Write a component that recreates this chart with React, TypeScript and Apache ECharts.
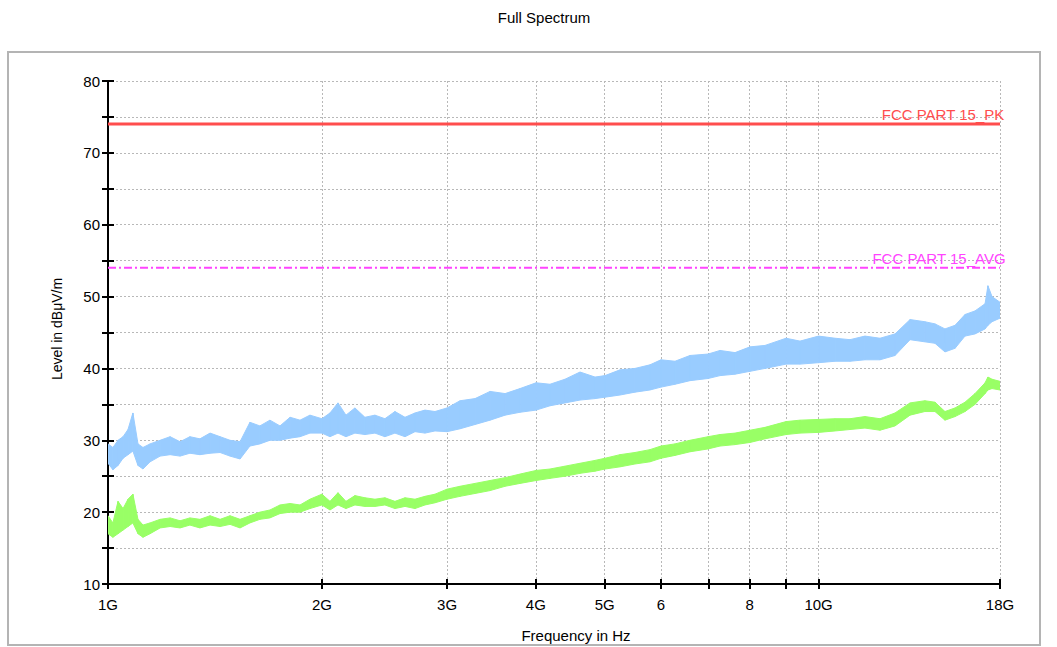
import React, { useEffect, useRef } from "react";
import * as echarts from "echarts";

// Frequency points in GHz
const freqs = [
  1.0, 1.016, 1.033, 1.05, 1.067, 1.084, 1.102, 1.12, 1.146, 1.184, 1.223, 1.263, 1.304, 1.347,
  1.392, 1.438, 1.485, 1.534, 1.584, 1.636, 1.69, 1.746, 1.804, 1.863, 1.924, 2.0, 2.053, 2.107,
  2.162, 2.226, 2.299, 2.375, 2.453, 2.534, 2.618, 2.704, 2.793, 2.885, 3.0, 3.129, 3.285, 3.449,
  3.621, 3.801, 4.003, 4.188, 4.397, 4.616, 4.846, 5.005, 5.254, 5.515, 5.79, 6.0, 6.28, 6.592,
  6.99, 7.266, 7.628, 8.008, 8.406, 8.999, 9.415, 10.0, 10.55, 11.07, 11.62, 12.2, 12.81, 13.45,
  14.11, 14.58, 15.06, 15.56, 16.07, 16.6, 17.15, 17.31, 17.54, 18.0,
];

// Peak trace envelope (dBµV/m)
const peakHi = [
  29.5, 29.0, 30.0, 30.5, 31.5, 33.8, 29.5, 29.0, 29.5, 30.0, 30.5, 29.8, 30.5, 30.2,
  31.0, 30.5, 30.0, 29.8, 32.5, 32.0, 32.8, 32.0, 33.2, 32.8, 33.5, 33.0, 33.8, 35.2,
  33.5, 34.5, 33.2, 33.5, 33.0, 34.0, 33.2, 33.8, 34.2, 34.0, 34.5, 35.5, 35.8, 36.8,
  36.5, 37.2, 38.0, 37.8, 38.5, 39.5, 38.8, 39.0, 39.8, 40.0, 40.5, 41.2, 41.0, 41.8,
  42.0, 42.5, 42.2, 43.0, 43.2, 44.2, 43.8, 44.5, 44.2, 44.0, 44.5, 44.2, 44.8, 46.8,
  46.5, 46.2, 45.5, 46.0, 47.5, 48.0, 49.0, 51.5, 50.0, 49.2,
];
const peakLo = [
  26.8, 25.9, 26.5, 27.5, 28.0, 28.5, 26.5, 26.0, 27.0, 27.8, 28.0, 27.8, 28.2, 28.0,
  28.2, 28.3, 27.8, 27.4, 29.2, 29.5, 30.0, 30.0, 30.3, 30.5, 31.0, 31.0, 30.5, 31.0,
  30.5, 31.0, 30.8, 31.0, 30.5, 31.0, 30.5, 31.2, 31.0, 31.3, 31.2, 31.6, 32.2, 32.8,
  33.5, 33.9, 34.2, 34.8, 35.2, 35.6, 35.8, 36.0, 36.3, 36.7, 37.0, 37.4, 37.8, 38.3,
  38.6, 39.0, 39.2, 39.6, 40.0, 40.6, 40.6, 40.8, 41.0, 41.0, 41.2, 41.2, 41.8, 44.0,
  43.7, 43.5, 42.3, 42.8, 44.5, 44.8, 45.5, 46.0, 46.5, 47.0,
];

// Average trace envelope (dBµV/m)
const avgHi = [
  19.5, 18.5, 21.5, 20.5, 21.8, 22.5, 19.0, 18.2, 18.5, 19.0, 19.2, 18.8, 19.2, 19.0,
  19.5, 19.0, 19.5, 19.0, 19.5, 20.0, 20.3, 21.0, 21.2, 21.0, 21.8, 22.5, 21.5, 22.7,
  21.5, 22.3, 22.0, 21.8, 22.0, 21.5, 22.0, 21.8, 22.2, 22.5, 23.2, 23.6, 24.0, 24.4,
  24.8, 25.3, 25.8, 26.0, 26.4, 26.8, 27.2, 27.5, 28.0, 28.3, 28.7, 29.2, 29.5, 30.0,
  30.5, 30.8, 31.0, 31.4, 31.8, 32.6, 32.8, 32.9, 33.0, 33.0, 33.3, 33.0, 33.8, 35.2,
  35.5, 35.3, 34.0, 34.5, 35.3, 36.5, 38.0, 38.8, 38.5, 38.2,
];
const avgLo = [
  17.0, 16.5, 17.0, 17.5, 18.0, 18.5, 17.0, 16.5, 17.0, 17.8, 18.0, 17.8, 18.2, 17.8,
  18.2, 18.0, 18.3, 17.8, 18.5, 19.0, 19.2, 19.8, 20.0, 20.0, 20.5, 21.0, 20.3, 21.0,
  20.5, 21.0, 20.8, 20.8, 21.0, 20.5, 20.8, 20.5, 21.0, 21.3, 21.8, 22.2, 22.6, 23.0,
  23.6, 24.0, 24.4, 24.7, 25.0, 25.4, 25.7, 26.0, 26.3, 26.7, 27.0, 27.5, 27.9, 28.4,
  28.8, 29.2, 29.4, 29.7, 30.2, 30.8, 31.0, 31.1, 31.3, 31.5, 31.7, 31.4, 32.0, 33.5,
  34.0, 34.0, 32.8, 33.3, 34.0, 35.0, 36.5, 37.0, 37.2, 37.0,
];

// Limit lines
const limitPk = 74;
const limitAvg = 54;
const limitPkName = "FCC PART 15_PK";
const limitAvgName = "FCC PART 15_AVG";

// Axes
const fMin = 1;
const fMax = 18;
const xTickFreqs = [1, 2, 3, 4, 5, 6, 7, 8, 9, 10, 18];
const xTickLabels = ["1G", "2G", "3G", "4G", "5G", "6", "", "8", "", "10G", "18G"];
const yMin = 10;
const yMax = 80;
const yInterval = 5;

const FONT = "Liberation Sans, Arial, sans-serif";
const lg = (f: number) => Math.log10(f);

function bandRows(hi: number[], lo: number[]) {
  const rows: number[][] = [];
  for (let i = 0; i < freqs.length - 1; i++) {
    rows.push([lg(freqs[i]), hi[i], lo[i], lg(freqs[i + 1]), hi[i + 1], lo[i + 1]]);
  }
  return rows;
}

function bandSeries(name: string, hi: number[], lo: number[], color: string) {
  return {
    type: "custom",
    name,
    data: bandRows(hi, lo),
    encode: { x: [0, 3], y: [1, 2, 4, 5] },
    clip: true,
    renderItem: (params: any, api: any) => {
      const a = api.coord([api.value(0), api.value(1)]);
      const b = api.coord([api.value(3), api.value(4)]);
      const c = api.coord([api.value(3), api.value(5)]);
      const d = api.coord([api.value(0), api.value(2)]);
      return {
        type: "polygon",
        shape: { points: [a, b, c, d] },
        style: { fill: color, stroke: color, lineWidth: 1 },
      };
    },
    z: 3,
  };
}

function xLabel(v: number) {
  for (let i = 0; i < xTickFreqs.length; i++) {
    if (Math.abs(lg(xTickFreqs[i]) - v) < 1e-6) return xTickLabels[i];
  }
  return "";
}

export default function App() {
  const ref = useRef<HTMLDivElement>(null);
  useEffect(() => {
    if (!ref.current) return;
    const chart = echarts.init(ref.current, undefined, { renderer: "svg" });
    const xTickVals = xTickFreqs.map(lg);
    const xLabelVals = xTickFreqs.filter((_, i) => xTickLabels[i] !== "").map(lg);
    const xBase = {
      type: "value",
      min: lg(fMin),
      max: lg(fMax),
      position: "bottom",
    };
    const yBase = {
      type: "value",
      min: yMin,
      max: yMax,
      interval: yInterval,
      position: "left",
    };
    chart.setOption({
      animation: false,
      backgroundColor: "#ffffff",
      grid: { left: 108, top: 81, width: 892, height: 503, containLabel: false },
      xAxis: [
        {
          ...xBase,
          axisLine: { show: true, onZero: false, lineStyle: { color: "#000", width: 2 } },
          axisTick: { show: true, inside: false, length: 5, customValues: xTickVals, lineStyle: { color: "#000", width: 2 } },
          axisLabel: {
            show: true,
            customValues: xLabelVals,
            formatter: (v: number) => xLabel(v),
            margin: 13,
            color: "#000",
            fontFamily: FONT,
            fontSize: 15,
            hideOverlap: false,
          },
          splitLine: { show: true, lineStyle: { color: "#b8b8b8", type: [2, 2], width: 1 } },
        },
        {
          ...xBase,
          axisLine: { show: false, onZero: false },
          axisTick: { show: true, inside: true, length: 5, customValues: xTickVals, lineStyle: { color: "#000", width: 2 } },
          axisLabel: { show: false },
          splitLine: { show: false },
        },
      ],
      yAxis: [
        {
          ...yBase,
          axisLine: { show: true, onZero: false, lineStyle: { color: "#000", width: 2 } },
          axisTick: { show: true, inside: false, length: 6, lineStyle: { color: "#000", width: 2 } },
          axisLabel: {
            show: true,
            formatter: (v: number) => (v % 10 === 0 ? String(v) : ""),
            margin: 8,
            color: "#000",
            fontFamily: FONT,
            fontSize: 15,
          },
          splitLine: { show: true, lineStyle: { color: "#b8b8b8", type: [2, 2], width: 1 } },
        },
        {
          ...yBase,
          axisLine: { show: false, onZero: false },
          axisTick: { show: true, inside: true, length: 6, lineStyle: { color: "#000", width: 2 } },
          axisLabel: { show: false },
          splitLine: { show: false },
        },
      ],
      series: [
        bandSeries("Peak", peakHi, peakLo, "#99ccff"),
        bandSeries("Average", avgHi, avgLo, "#99ff66"),
        {
          type: "line",
          name: limitPkName,
          data: [
            [lg(fMin), limitPk],
            [lg(fMax), limitPk],
          ],
          showSymbol: false,
          lineStyle: { color: "#ff4d4d", width: 3 },
          z: 4,
        },
        {
          type: "line",
          name: limitAvgName,
          data: [
            [lg(fMin), limitAvg],
            [lg(fMax), limitAvg],
          ],
          showSymbol: false,
          lineStyle: { color: "#ff44ff", width: 2, type: [8, 3, 2, 3] },
          z: 4,
        },
      ],
      graphic: [
        {
          type: "rect",
          shape: { x: 8, y: 52, width: 1032, height: 593 },
          style: { fill: "none", stroke: "#b4b4b4", lineWidth: 2 },
          z: -1,
          silent: true,
        },
        {
          type: "text",
          x: 544,
          y: 17,
          style: { text: "Full Spectrum", fill: "#000", font: `15px ${FONT}`, textAlign: "center", textVerticalAlign: "middle" },
        },
        {
          type: "text",
          x: 576,
          y: 635,
          style: { text: "Frequency in Hz", fill: "#000", font: `15px ${FONT}`, textAlign: "center", textVerticalAlign: "middle" },
        },
        {
          type: "text",
          x: 57,
          y: 329,
          rotation: Math.PI / 2,
          style: { text: "Level in dBμV/m", fill: "#000", font: `14px ${FONT}`, textAlign: "center", textVerticalAlign: "middle" },
        },
        {
          type: "text",
          x: 943,
          y: 114,
          style: { text: limitPkName, fill: "#ff4d4d", font: `15px ${FONT}`, textAlign: "center", textVerticalAlign: "middle" },
          z: 10,
        },
        {
          type: "text",
          x: 939,
          y: 258,
          style: { text: limitAvgName, fill: "#ff44ff", font: `15px ${FONT}`, textAlign: "center", textVerticalAlign: "middle" },
          z: 10,
        },
      ],
    });
    return () => chart.dispose();
  }, []);
  return (
    <div
      ref={ref}
      style={{ position: "absolute", left: 0, top: 0, width: 1057, height: 647 }}
    />
  );
}
